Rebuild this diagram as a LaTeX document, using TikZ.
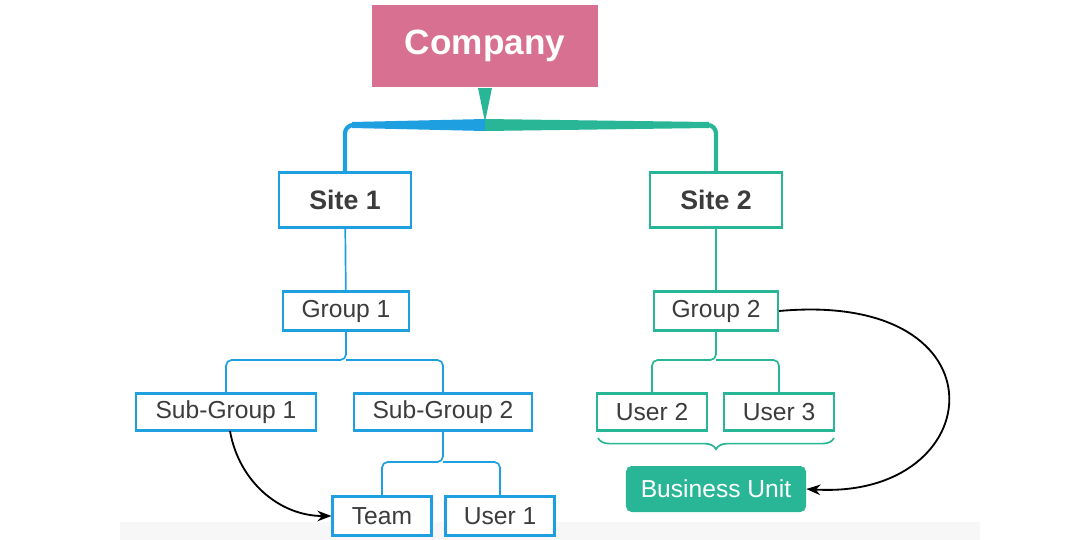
\documentclass[tikz,border=0pt]{standalone}
\usepackage{fontspec}
\setmainfont{Liberation Sans}
\usetikzlibrary{positioning,arrows.meta,decorations.pathreplacing}
\definecolor{rosa}{RGB}{216,112,145}
\definecolor{sblue}{RGB}{30,160,224}
\definecolor{steal}{RGB}{40,182,150}
\definecolor{txt}{RGB}{60,60,60}
\tikzset{
  box/.style={line width=1.6pt, fill=white, text=txt, inner sep=0pt, font=\fontsize{17.5}{19}\selectfont},
  bbox/.style={box, draw=sblue},
  tbox/.style={box, draw=steal},
  link/.style={line width=1.2pt, rounded corners=4pt},
}
\begin{document}
\begin{tikzpicture}[x=0.025cm, y=-0.025cm]
\useasboundingbox (0,0) rectangle (1080,540);
\fill[gray!6] (120,522) rectangle (980,540);
% top level
\node[fill=rosa, text=white, font=\bfseries\fontsize{25}{28}\selectfont, minimum width=5.65cm, minimum height=2.07cm] (company) at (485,46) {Company};
\node[bbox, font=\bfseries\fontsize{19}{21}\selectfont, minimum width=3.3cm, minimum height=1.37cm] (site1) at (345,200) {Site 1};
\node[tbox, font=\bfseries\fontsize{19}{21}\selectfont, minimum width=3.3cm, minimum height=1.37cm] (site2) at (716,200) {Site 2};
% groups
\node[bbox, minimum width=3.15cm, minimum height=0.97cm] (group1) at (346,311) {Group 1};
\node[tbox, minimum width=3.1cm, minimum height=0.97cm] (group2) at (716,311) {Group 2};
\node[bbox, minimum width=4.5cm, minimum height=0.93cm] (sub1) at (226,412) {Sub-Group 1};
\node[bbox, minimum width=4.45cm, minimum height=0.93cm] (sub2) at (443,412) {Sub-Group 2};
\node[tbox, minimum width=2.75cm, minimum height=0.93cm] (user2) at (652,412) {User 2};
\node[tbox, minimum width=2.75cm, minimum height=0.93cm] (user3) at (779,412) {User 3};
\node[bbox, minimum width=2.47cm, minimum height=0.97cm] (team) at (382,516) {Team};
\node[bbox, minimum width=2.72cm, minimum height=0.97cm] (user1) at (500,516) {User 1};
\node[fill=steal, text=white, rounded corners=4pt, font=\fontsize{17.5}{19}\selectfont, minimum width=4.5cm, minimum height=1.15cm] (unit) at (716,489) {Business Unit};
% main branch
\coordinate (hub) at (485,125);
\fill[steal] (478,88) -- (492,88) -- (485,122) -- cycle;
\fill[sblue] (485,119) -- (352,122) -- (352,128) -- (485,131) -- cycle;
\fill[steal] (485,119) -- (709,122) -- (709,128) -- (485,131) -- cycle;
\draw[sblue, line width=3pt, rounded corners=6pt] (356,125) -- (345,125) -- (site1.north);
\draw[steal, line width=3pt, rounded corners=6pt] (704,125) -- (716,125) -- (site2.north);
% tree links
\draw[sblue, link] (site1) -- (group1);
\draw[steal, link] (site2) -- (group2);
\draw[sblue, link] (group1.south) -- (346,360) -| (sub1.north);
\draw[sblue, link] (346,360) -| (sub2.north);
\draw[sblue, link] (sub2.south) -- (443,462) -| (team.north);
\draw[sblue, link] (443,462) -| (user1.north);
\draw[steal, link] (group2.south) -- (716,360) -| (user2.north);
\draw[steal, link] (716,360) -| (user3.north);
\draw[steal, line width=1.2pt, decorate, decoration={brace, mirror, amplitude=8pt}] (598,438) -- (834,438);
% cross links
\draw[-{Stealth[length=10pt]}, line width=1.3pt] (230,431) to[out=-80, in=180] (team.west);
\draw[-{Stealth[length=10pt]}, line width=1.3pt] (group2.east) .. controls (1010,290) and (990,500) .. (unit.east);
\end{tikzpicture}
\end{document}
